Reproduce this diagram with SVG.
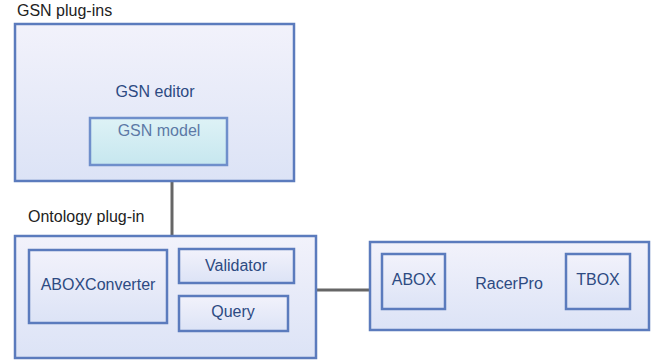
<svg xmlns="http://www.w3.org/2000/svg" width="670" height="362" viewBox="0 0 670 362">
  <defs>
    <linearGradient id="boxFill" x1="0" y1="0" x2="0" y2="1">
      <stop offset="0" stop-color="#f2f2fb"/>
      <stop offset="1" stop-color="#dce3f6"/>
    </linearGradient>
    <linearGradient id="modelFill" x1="0" y1="0" x2="0" y2="1">
      <stop offset="0" stop-color="#def2f6"/>
      <stop offset="1" stop-color="#c6e7ef"/>
    </linearGradient>
  </defs>
  <style>
    .box { fill: url(#boxFill); stroke: #5b7bbd; stroke-width: 2.5; }
    .model { fill: url(#modelFill); stroke: #6f8fcb; stroke-width: 2.5; }
    .txt { font-family: "Liberation Sans", Arial, sans-serif; font-size: 16px; fill: #2d4a82; text-anchor: middle; }
    .dim { fill: #5c79a6; }
    .lbl { font-family: "Liberation Sans", Arial, sans-serif; font-size: 16px; fill: #222; }
    .conn { stroke: #666; stroke-width: 3; fill: none; }
  </style>

  <g id="connectors">
    <line class="conn" x1="172" y1="180" x2="172" y2="235"/>
    <line class="conn" x1="316" y1="290" x2="370" y2="290"/>
  </g>

  <g id="gsn-plugins">
    <text class="lbl" x="17" y="16">GSN plug-ins</text>
    <rect class="box" x="15" y="24" width="279" height="157"/>
    <text class="txt" x="155" y="97">GSN editor</text>
  </g>
  <g id="gsn-model">
    <rect class="model" x="90" y="118" width="137" height="47"/>
    <text class="txt dim" x="159" y="136">GSN model</text>
  </g>

  <g id="ontology-plugin">
    <text class="lbl" x="28" y="222">Ontology plug-in</text>
    <rect class="box" x="15" y="236" width="301" height="122"/>
  </g>
  <g id="abox-converter">
    <rect class="box" x="29" y="250" width="138" height="73"/>
    <text class="txt" x="98" y="290">ABOXConverter</text>
  </g>
  <g id="validator">
    <rect class="box" x="179" y="249" width="115" height="34"/>
    <text class="txt" x="236" y="271">Validator</text>
  </g>
  <g id="query">
    <rect class="box" x="179" y="296" width="109" height="35"/>
    <text class="txt" x="233" y="317">Query</text>
  </g>

  <g id="racerpro">
    <rect class="box" x="370" y="242" width="279" height="88"/>
    <text class="txt" x="509" y="289">RacerPro</text>
  </g>
  <g id="abox">
    <rect class="box" x="382" y="254" width="63" height="55"/>
    <text class="txt" x="414" y="285">ABOX</text>
  </g>
  <g id="tbox">
    <rect class="box" x="566" y="254" width="64" height="55"/>
    <text class="txt" x="598" y="285">TBOX</text>
  </g>
</svg>
